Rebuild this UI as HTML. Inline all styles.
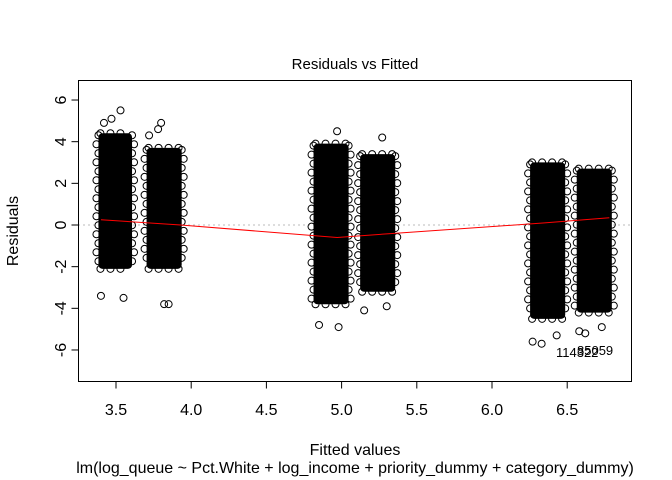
<!DOCTYPE html>
<html><head><meta charset="utf-8"><style>body{margin:0;background:#fff}svg{display:block;font-family:"Liberation Sans",sans-serif}</style></head>
<body>
<svg id="c" width="672" height="480"></svg>
<script>
const xTicks=[3.5,4.0,4.5,5.0,5.5,6.0,6.5];
const xTickLabels=["3.5","4.0","4.5","5.0","5.5","6.0","6.5"];
const yTicks=[-6,-4,-2,0,2,4,6];
const yTickLabels=["-6","-4","-2","0","2","4","6"];
// clusters: fitted min/max, dense residual top/bottom
const clusterXmin=[3.37,3.69,4.80,5.11,6.24,6.55];
const clusterXmax=[3.62,3.95,5.06,5.37,6.50,6.81];
const clusterTop=[4.5,3.8,4.0,3.5,3.1,2.8];
const clusterBottom=[-2.2,-2.2,-3.9,-3.3,-4.6,-4.3];
const outlierX=[3.4,3.55,3.42,3.47,3.82,3.85,3.8,3.72,4.85,4.98,5.15,5.3,6.27,6.33,6.43,6.58,6.62,6.73,3.53,3.78,4.97,5.27];
const outlierY=[-3.4,-3.5,4.9,5.1,-3.8,-3.8,4.9,4.3,-4.8,-4.9,-4.1,-3.9,-5.6,-5.7,-5.3,-5.1,-5.2,-4.9,5.5,4.6,4.5,4.2];
const loessX=[3.4,3.93,4.97,5.35,6.35,6.78];
const loessY=[0.25,0.0,-0.6,-0.4,0.1,0.35];
const X=v=>116+(v-3.5)*150.4, Y=v=>225-v*20.83;
const svg=document.getElementById('c');const NS='http://www.w3.org/2000/svg';
function mk(t,a,p){const e=document.createElementNS(NS,t);for(const k in a)e.setAttribute(k,a[k]);(p||svg).appendChild(e);return e;}
let t=mk('text',{x:355,y:69,'text-anchor':'middle','font-size':15});t.textContent='Residuals vs Fitted';


mk('line',{x1:78,x2:631,y1:225,y2:225,stroke:'#bbb','stroke-dasharray':'2,3'});
const cg=mk('g',{});


for(let i=0;i<clusterXmin.length;i++){
 const x0=X(clusterXmin[i]),x1=X(clusterXmax[i]),y0=Y(clusterTop[i]),y1=Y(clusterBottom[i]);
 const r=mk('rect',{x:x0+2,y:y0+2,width:x1-x0-4,height:y1-y0-4,rx:4,fill:'#000'},cg);
 
 
 let k=0;
 for(let yy=y0+4;yy<=y1-4;yy+=9){k++;const o=(k%2)*2;mk('circle',{cx:x0+o,cy:yy,r:3.5,fill:'none',stroke:'#000'},cg);mk('circle',{cx:x1-o,cy:yy,r:3.5,fill:'none',stroke:'#000'},cg);}
 for(let xx=x0+4;xx<=x1-4;xx+=10){mk('circle',{cx:xx,cy:y0+2,r:3.5,fill:'none',stroke:'#000'},cg);mk('circle',{cx:xx,cy:y1-2,r:3.5,fill:'none',stroke:'#000'},cg);}
}
for(let i=0;i<outlierX.length;i++){const c=mk('circle',{cx:X(outlierX[i]),cy:Y(outlierY[i]),r:3.5,fill:'none',stroke:'#000'},cg);
 
 }
const lp=mk('polyline',{points:loessX.map((v,i)=>X(v)+','+Y(loessY[i])).join(' '),fill:'none',stroke:'#f00','stroke-width':1});


const lb=mk('text',{x:556,y:357,'font-size':13});lb.textContent='114322';


const lb2=mk('text',{x:577,y:355,'font-size':13});lb2.textContent='85059';


const box=mk('rect',{x:78.5,y:80.5,width:553,height:301,fill:'none',stroke:'#000'});


mk('line',{x1:X(3.5),x2:X(6.5),y1:381.5,y2:381.5,stroke:'#000'});
xTicks.forEach((v,i)=>{mk('line',{x1:X(v),x2:X(v),y1:381.5,y2:388.5,stroke:'#000'});
 const e=mk('text',{x:X(v),y:415,'text-anchor':'middle','font-size':16});e.textContent=xTickLabels[i];
 
 });
mk('line',{x1:78.5,x2:78.5,y1:Y(-6),y2:Y(6),stroke:'#000'});
yTicks.forEach((v,i)=>{mk('line',{x1:71.5,x2:78.5,y1:Y(v),y2:Y(v),stroke:'#000'});
 const e=mk('text',{x:0,y:0,'text-anchor':'middle','font-size':16,transform:`translate(66,${Y(v)}) rotate(-90)`});e.textContent=yTickLabels[i];
 
 });
let xt=mk('text',{x:355,y:455,'text-anchor':'middle','font-size':16});xt.textContent='Fitted values';


let st=mk('text',{x:355,y:473,'text-anchor':'middle','font-size':16});st.textContent='lm(log_queue ~ Pct.White + log_income + priority_dummy + category_dummy)';


let yt=mk('text',{x:0,y:0,'text-anchor':'middle','font-size':16,transform:'translate(18,231) rotate(-90)'});yt.textContent='Residuals';


</script>
</body></html>
